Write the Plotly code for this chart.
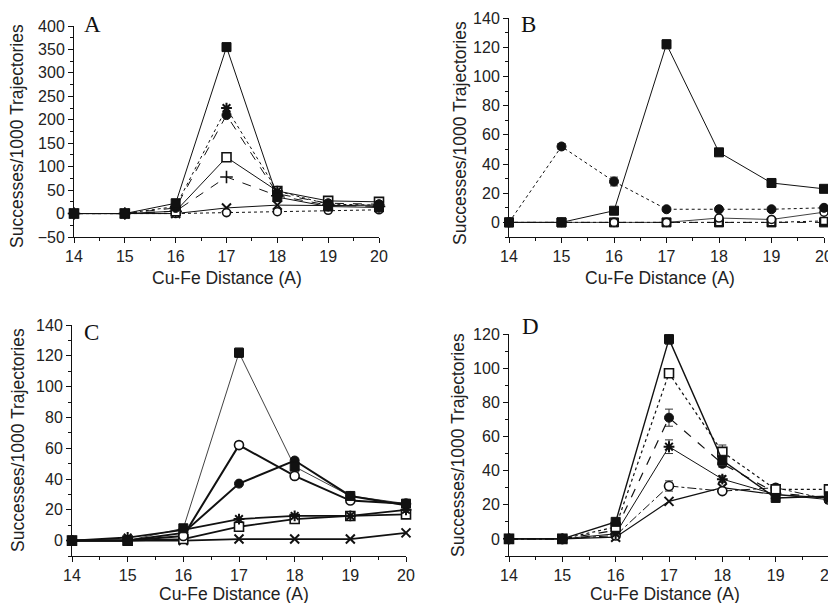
import plotly.graph_objects as go

# ---------------- data ----------------
distance = [14, 15, 16, 17, 18, 19, 20]

# Panel A
a_fsq = [0, 0, 22, 355, 35, 15, 13]
a_ast = [0, 0, 15, 225, 48, 20, 18]
a_fci = [0, 0, 12, 210, 42, 22, 20]
a_osq = [0, 0, 5, 120, 48, 27, 25]
a_plus = [0, 0, 5, 78, 38, 18, 15]
a_x = [0, 0, 0, 12, 18, 17, 18]
a_oci = [0, 0, 0, 2, 4, 7, 8]

# Panel B
b_fsq = [0, 0, 8, 122, 48, 27, 23]
b_fci = [0, 52, 28, 9, 9, 9, 10]
b_oci = [0, 0, 0, 0, 3, 2, 7]
b_fsq2 = [0, 0, 0, 0, 0, 0, 0]
b_osq = [0, 0, 0, 0, 0, 0, 1]

# Panel C
c_fsq = [0, 0, 8, 122, 48, 29, 24]
c_oci = [0, 0, 3, 62, 42, 26, 24]
c_fci = [0, 0, 5, 37, 52, 29, 23]
c_ast = [0, 2, 7, 14, 16, 16, 20]
c_osq = [0, 0, 1, 9, 14, 16, 17]
c_x = [0, 0, 0, 1, 1, 1, 5]

# Panel D
d_fsq = [0, 0, 10, 117, 46, 24, 25]
d_osq = [0, 0, 7, 97, 51, 29, 29]
d_fci = [0, 0, 5, 71, 44, 27, 24]
d_ast = [0, 0, 3, 54, 35, 26, 23]
d_oci = [0, 0, 2, 31, 28, 30, 23]
d_x = [0, 0, 1, 22, 30, 26, 24]

# error bars (symmetric)
a_fsq_err = [0, 0, 2, 4, 3, 2, 2]
b_fsq_err = [0, 0, 1, 3, 1, 1, 1]
b_fci_err = [0, 2, 3, 1, 1, 1, 1]
c_fsq_err = [0, 0, 1, 3, 2, 1, 1]
c_oci_err = [0, 0, 1, 2, 2, 1, 1]
d_fsq_err = [0, 0, 1, 3, 3, 1, 1]
d_osq_err = [0, 0, 1, 2, 4, 1, 1]
d_fci_err = [0, 0, 1, 5, 2, 1, 1]
d_ast_err = [0, 0, 1, 4, 2, 1, 1]
d_oci_err = [0, 0, 1, 3, 1, 1, 1]

x_ticks = [14, 15, 16, 17, 18, 19, 20]
a_yticks = [-50, 0, 50, 100, 150, 200, 250, 300, 350, 400]
bc_yticks = [0, 20, 40, 60, 80, 100, 120, 140]
d_yticks = [0, 20, 40, 60, 80, 100, 120]
panel_letters = ["A", "B", "C", "D"]
x_title = "Cu-Fe Distance (A)"
y_title = "Successes/1000 Trajectories"

# ---------------- layout helpers ----------------
W, H = 836, 603
OFF = 8  # page body margin in the browser; positions below are screen pixels
BLACK = "#111111"


def xd(px0, px1):
    return [(px0 - OFF) / W, (px1 - OFF) / W]


def yd(top, bottom):
    return [1 - (bottom - OFF) / H, 1 - (top - OFF) / H]


def px(x):
    return (x - OFF) / W


def py(y):
    return 1 - (y - OFF) / H


fig = go.Figure()

STY = {
    "fsq": dict(symbol="square", color=BLACK, line=dict(color=BLACK, width=1)),
    "osq": dict(symbol="square", color="white", line=dict(color=BLACK, width=1.6)),
    "fci": dict(symbol="circle", color=BLACK, line=dict(color=BLACK, width=1)),
    "oci": dict(symbol="circle", color="white", line=dict(color=BLACK, width=1.6)),
    "ast": dict(symbol="asterisk-open", color=BLACK, line=dict(color=BLACK, width=2)),
    "plus": dict(symbol="cross-thin-open", color=BLACK, line=dict(color=BLACK, width=1.6)),
    "x": dict(symbol="x-thin-open", color=BLACK, line=dict(color=BLACK, width=2)),
}


def add(ax, y, kind, dash="solid", lw=1.0, size=9, err=None):
    xa = "x" if ax == 1 else f"x{ax}"
    ya = "y" if ax == 1 else f"y{ax}"
    m = dict(STY[kind])
    m["size"] = size
    tr = go.Scatter(
        x=distance, y=y, mode="lines+markers", xaxis=xa, yaxis=ya,
        line=dict(color=BLACK, width=lw, dash=dash), marker=m,
        cliponaxis=False, showlegend=False,
    )
    if err is not None:
        tr.error_y = dict(type="data", array=err, visible=True,
                          color="#333333", thickness=1, width=4)
    fig.add_trace(tr)


# Panel A
add(1, a_x, "x", "solid")
add(1, a_oci, "oci", "dot", size=8)
add(1, a_plus, "plus", "dash")
add(1, a_osq, "osq", "solid")
add(1, a_fci, "fci", "dash")
add(1, a_ast, "ast", "dot")
add(1, a_fsq, "fsq", "solid", err=a_fsq_err)

# Panel B
add(2, b_fsq2, "fsq", "dash")
add(2, b_osq, "osq", "dot", size=7)
add(2, b_oci, "oci", "solid", lw=0.8, size=8)
add(2, b_fci, "fci", "dot", err=b_fci_err)
add(2, b_fsq, "fsq", "solid", err=b_fsq_err)

# Panel C
add(3, c_x, "x", "solid", lw=1.8)
add(3, c_osq, "osq", "solid", lw=1.8)
add(3, c_ast, "ast", "solid", lw=1.8)
add(3, c_fci, "fci", "solid", lw=2.0)
add(3, c_oci, "oci", "solid", lw=2.0, err=c_oci_err)
add(3, c_fsq, "fsq", "solid", lw=0.8, err=c_fsq_err)

# Panel D
add(4, d_x, "x", "solid", lw=1.2)
add(4, d_oci, "oci", "dashdot", err=d_oci_err)
add(4, d_ast, "ast", "solid", err=d_ast_err)
add(4, d_fci, "fci", "dash", lw=1.2, err=d_fci_err)
add(4, d_osq, "osq", "dot", lw=1.2, err=d_osq_err)
add(4, d_fsq, "fsq", "solid", lw=1.4, err=d_fsq_err)

TICKFONT = dict(family="Liberation Sans, Arial, sans-serif", size=16, color="#222222")


def xaxis(dom, anchor):
    return dict(domain=dom, range=[14, 20], tickvals=x_ticks, ticks="outside",
                ticklen=5, tickcolor=BLACK, showline=True, linecolor=BLACK,
                linewidth=1, showgrid=False, zeroline=False, tickfont=TICKFONT,
                automargin=False, anchor=anchor,
                minor=dict(ticks="outside", ticklen=3, dtick=0.5, tickcolor=BLACK,
                           showgrid=False),
                fixedrange=True)


def yaxis(dom, rng, tickvals, mdtick, anchor):
    return dict(domain=dom, range=rng, tickvals=tickvals, ticks="outside",
                ticklen=5, tickcolor=BLACK, showline=True, linecolor=BLACK,
                linewidth=1, showgrid=False, zeroline=False, tickfont=TICKFONT,
                anchor=anchor, automargin=False,
                minor=dict(ticks="outside", ticklen=3, dtick=mdtick, tick0=0,
                           tickcolor=BLACK, showgrid=False),
                fixedrange=True)


fig.update_layout(
    width=W, height=H, autosize=False,
    margin=dict(l=0, r=0, t=0, b=0, pad=0, autoexpand=False),
    paper_bgcolor="white", plot_bgcolor="white",
    xaxis=xaxis(xd(74, 379), "y"),
    yaxis=yaxis(yd(26, 237), [-50, 400], a_yticks, 25, "x"),
    xaxis2=xaxis(xd(509, 824), "y2"),
    yaxis2=yaxis(yd(18, 237), [-10, 140], bc_yticks, 10, "x2"),
    xaxis3=xaxis(xd(72, 406), "y3"),
    yaxis3=yaxis(yd(325, 556), [-10, 140], bc_yticks, 10, "x3"),
    xaxis4=xaxis(xd(509, 829), "y4"),
    yaxis4=yaxis(yd(334, 556), [-10, 120], d_yticks, 10, "x4"),
)

XTITLEFONT = dict(family="Liberation Sans, Arial, sans-serif", size=17.5, color="#222222")
YTITLEFONT = dict(family="Liberation Sans, Arial, sans-serif", size=17.5, color="#222222")
LETTERFONT = dict(family="Liberation Serif, Times New Roman, serif", size=23, color="#111111")

ann = []
for cx, cy in [(17, 136), (460, 133), (18, 440), (458, 445)]:
    ann.append(dict(text=y_title, x=px(cx), y=py(cy), xref="paper", yref="paper",
                    textangle=-90, showarrow=False, font=YTITLEFONT,
                    xanchor="center", yanchor="middle"))
for cx, cy in [(227, 278), (660, 278), (234, 594), (665, 594)]:
    ann.append(dict(text=x_title, x=px(cx), y=py(cy), xref="paper", yref="paper",
                    showarrow=False, font=XTITLEFONT, xanchor="center", yanchor="middle"))
for letter, (cx, cy) in zip(panel_letters, [(92, 25), (528, 25), (91, 332), (530, 326)]):
    ann.append(dict(text=letter, x=px(cx), y=py(cy), xref="paper", yref="paper",
                    showarrow=False, font=LETTERFONT, xanchor="center", yanchor="middle"))
fig.update_layout(annotations=ann)

fig.write_html("out.html")
